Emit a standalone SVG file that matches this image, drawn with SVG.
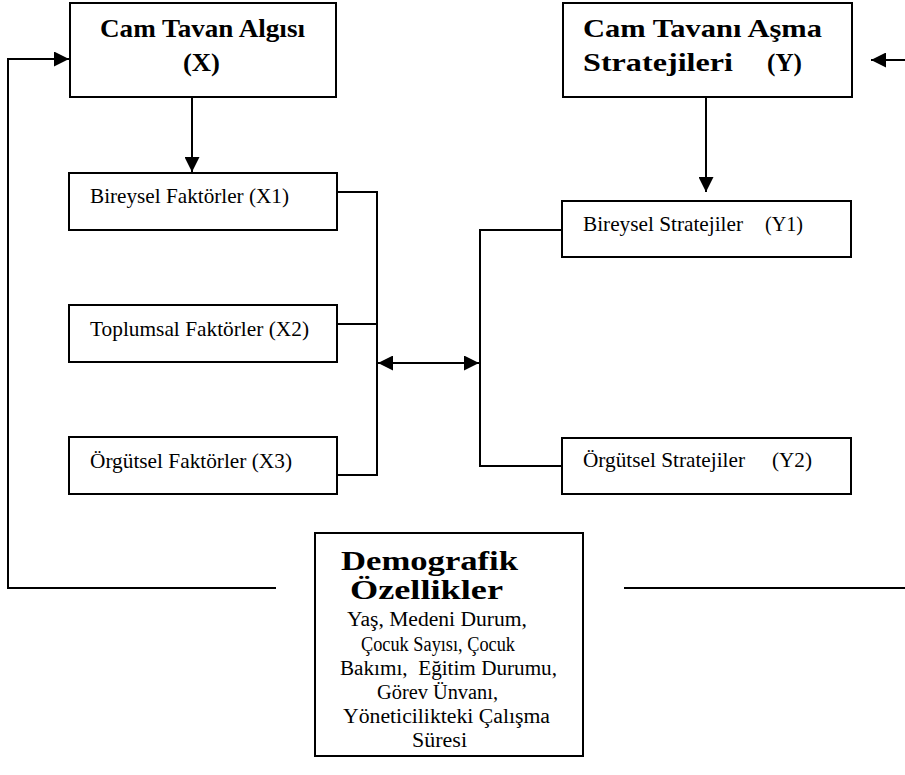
<svg xmlns="http://www.w3.org/2000/svg" width="905" height="775" viewBox="0 0 905 775">
<style>
.box{fill:#fff;stroke:#000;stroke-width:2}
.ln{fill:none;stroke:#000;stroke-width:2}
.t{font-size:22px}
.d{font-size:20px}
.b{font-size:25px;font-weight:bold}
.bd{font-size:27px;font-weight:bold}
</style>
<defs>
<marker id="ah" viewBox="0 0 16 16" refX="16" refY="8" markerWidth="16" markerHeight="15" markerUnits="userSpaceOnUse" orient="auto-start-reverse">
<path d="M0,0 L16,8 L0,16 Z" fill="#000"/>
</marker>
</defs>
<rect width="905" height="775" fill="#fff"/>
<g id="connectors">
<path class="ln" d="M276,588 H8 V59 H69" marker-end="url(#ah)"/>
<path class="ln" d="M624,588 H905"/>
<path class="ln" d="M905,60 H871" marker-end="url(#ah)"/>
<path class="ln" d="M192,97 V172" marker-end="url(#ah)"/>
<path class="ln" d="M706,97 V192" marker-end="url(#ah)"/>
<path class="ln" d="M337,192 H377 V475 H337"/>
<path class="ln" d="M337,324 H377"/>
<path class="ln" d="M562,230 H480 V466 H562"/>
<path class="ln" d="M378,363 H479" marker-start="url(#ah)" marker-end="url(#ah)"/>
</g>
<g font-family="'Liberation Serif', 'Times New Roman', serif" fill="#000">
<g id="nodeX">
<rect class="box" x="70" y="3" width="266" height="94"/>
<text class="b" x="100" y="37" textLength="205" lengthAdjust="spacingAndGlyphs">Cam Tavan Algısı</text>
<text class="b" x="183" y="71" textLength="37" lengthAdjust="spacingAndGlyphs">(X)</text>
</g>
<g id="nodeY">
<rect class="box" x="563" y="3" width="289" height="94"/>
<text class="b" x="583" y="37" textLength="239" lengthAdjust="spacingAndGlyphs">Cam Tavanı Aşma</text>
<text class="b" x="583" y="71" textLength="150" lengthAdjust="spacingAndGlyphs">Stratejileri</text>
<text class="b" x="767" y="71" textLength="35" lengthAdjust="spacingAndGlyphs">(Y)</text>
</g>
<g id="nodeX1">
<rect class="box" x="69" y="173" width="268" height="57"/>
<text class="t" x="90" y="203" textLength="199" lengthAdjust="spacingAndGlyphs">Bireysel Faktörler (X1)</text>
</g>
<g id="nodeX2">
<rect class="box" x="69" y="305" width="268" height="57"/>
<text class="t" x="90" y="336" textLength="219" lengthAdjust="spacingAndGlyphs">Toplumsal Faktörler (X2)</text>
</g>
<g id="nodeX3">
<rect class="box" x="69" y="437" width="268" height="57"/>
<text class="t" x="90" y="468" textLength="202" lengthAdjust="spacingAndGlyphs">Örgütsel Faktörler (X3)</text>
</g>
<g id="nodeY1">
<rect class="box" x="562" y="201" width="289" height="56"/>
<text class="t" x="583" y="231" textLength="160" lengthAdjust="spacingAndGlyphs">Bireysel Stratejiler</text>
<text class="t" x="765" y="231" textLength="38" lengthAdjust="spacingAndGlyphs">(Y1)</text>
</g>
<g id="nodeY2">
<rect class="box" x="562" y="438" width="289" height="56"/>
<text class="t" x="583" y="467" textLength="162" lengthAdjust="spacingAndGlyphs">Örgütsel Stratejiler</text>
<text class="t" x="772" y="467" textLength="40" lengthAdjust="spacingAndGlyphs">(Y2)</text>
</g>
<g id="nodeDemo">
<rect class="box" x="315" y="533" width="268" height="223"/>
<text class="bd" x="341" y="570" textLength="177" lengthAdjust="spacingAndGlyphs">Demografik</text>
<text class="bd" x="350" y="599" textLength="153" lengthAdjust="spacingAndGlyphs">Özellikler</text>
<text class="d" x="347" y="626" textLength="180" lengthAdjust="spacingAndGlyphs">Yaş, Medeni Durum,</text>
<text class="d" x="361" y="651" textLength="154" lengthAdjust="spacingAndGlyphs">Çocuk Sayısı, Çocuk</text>
<text class="d" x="340" y="675" textLength="217" lengthAdjust="spacingAndGlyphs" xml:space="preserve">Bakımı,  Eğitim Durumu,</text>
<text class="d" x="377" y="699" textLength="121" lengthAdjust="spacingAndGlyphs">Görev Ünvanı,</text>
<text class="d" x="343" y="723" textLength="207" lengthAdjust="spacingAndGlyphs">Yöneticilikteki Çalışma</text>
<text class="d" x="412" y="747" textLength="55" lengthAdjust="spacingAndGlyphs">Süresi</text>
</g>
</g>
</svg>
